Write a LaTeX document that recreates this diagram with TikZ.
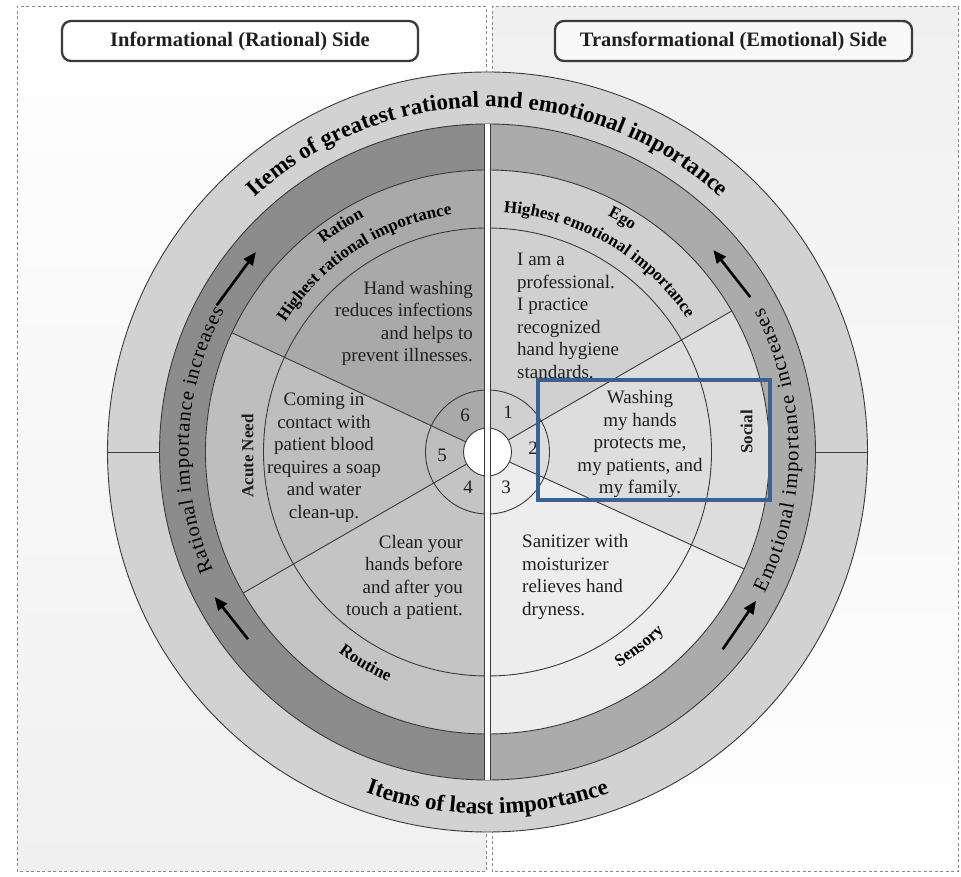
\documentclass[tikz,border=0pt]{standalone}
\usepackage{fontspec}
\setmainfont{Liberation Serif}
\usetikzlibrary{decorations.text,arrows.meta}
\definecolor{ringc}{HTML}{D2D2D2}
\definecolor{bandL}{HTML}{8C8C8C}
\definecolor{bandR}{HTML}{ABABAB}
\definecolor{cSix}{HTML}{A9A9A9}
\definecolor{cFive}{HTML}{BEBEBE}
\definecolor{cFour}{HTML}{C4C4C4}
\definecolor{cOne}{HTML}{D0D0D0}
\definecolor{cTwo}{HTML}{DDDDDD}
\definecolor{cThree}{HTML}{EDEDED}
\definecolor{edgec}{HTML}{3A3A3A}
\definecolor{txt}{HTML}{1E1E1E}
\definecolor{panelg}{HTML}{F0F0F0}
\definecolor{dashc}{HTML}{8A8A8A}
\definecolor{hiblue}{HTML}{3E6091}
\tikzset{
  edge/.style={draw=edgec, line width=0.9},
  panelline/.style={draw=dashc, line width=1, dash pattern=on 3pt off 2.5pt},
  headbox/.style={draw=edgec, line width=2.3, rounded corners=9, minimum height=40, inner sep=0,
     font=\bfseries\fontsize{20.5}{22}\selectfont, text=txt},
  body/.style={font=\fontsize{19}{22.5}\selectfont, inner sep=0, text=txt},
  numlbl/.style={font=\fontsize{19}{22}\selectfont, inner sep=0, text=txt},
  lbl/.style={font=\bfseries\fontsize{17}{19}\selectfont, inner sep=0, text=txt},
  bandarrow/.style={line width=2.6, draw=black, -{Triangle[length=13,width=11]}},
  hibox/.style={draw=hiblue, line width=3.6}
}
\begin{document}
\begin{tikzpicture}[x=1pt,y=1pt]
\useasboundingbox (0,0) rectangle (961,877);
% panels
\shade[top color=white, bottom color=panelg] (17,5) rectangle (486,870);
\shade[top color=panelg, bottom color=white] (492,5) rectangle (958,870);
\path[panelline] (17,5) rectangle (486,870);
\path[panelline] (492,5) rectangle (958,870);
% headers
\node[headbox, fill=white, minimum width=356] (lhead) at (240,836) {Informational (Rational) Side};
\node[headbox, fill=white!60!panelg, minimum width=357] (rhead) at (733.5,836) {Transformational (Emotional) Side};

\begin{scope}[shift={(487.5,425)}]
  % outer ring
  \fill[ringc] (0,0) circle[radius=380];
  % bands
  \fill[bandL] (90:328) arc[start angle=90, end angle=270, radius=328] -- cycle;
  \fill[bandR] (-90:328) arc[start angle=-90, end angle=90, radius=328] -- cycle;
  % sectors
  \fill[cSix] (0,0) -- (90:282) arc[start angle=90, end angle=155, radius=282] -- cycle;
  \fill[cFive] (0,0) -- (155:282) arc[start angle=155, end angle=210, radius=282] -- cycle;
  \fill[cFour] (0,0) -- (210:282) arc[start angle=210, end angle=270, radius=282] -- cycle;
  \fill[cOne] (0,0) -- (30:282) arc[start angle=30, end angle=90, radius=282] -- cycle;
  \fill[cTwo] (0,0) -- (-24.5:282) arc[start angle=-24.5, end angle=30, radius=282] -- cycle;
  \fill[cThree] (0,0) -- (-90:282) arc[start angle=-90, end angle=-24.5, radius=282] -- cycle;
  % circles
  \path[edge] (0,0) circle[radius=380];
  \path[edge] (0,0) circle[radius=328];
  \path[edge] (0,0) circle[radius=282];
  \path[edge] (0,0) circle[radius=224];
  \path[edge] (0,0) circle[radius=62];
  % radial lines
  \foreach \a in {155,210,30,-24.5} { \draw[edge] (\a:24) -- (\a:282); }
  \draw[edge] (180:328) -- (180:380);
  \draw[edge] (0:328) -- (0:380);
  % centre
  \fill[white] (0,0) circle[radius=24];
  \path[edge] (0,0) circle[radius=24];
  % separator
  \fill[white] (-3,-328) rectangle (3,328);
  \draw[edge] (-3,-327.9) -- (-3,327.9);
  \draw[edge] (3,-327.9) -- (3,327.9);

  % outer ring texts
  \path[decorate, decoration={text along path, text align=center,
     text={|\bfseries\fontsize{23}{23}\selectfont|Items of greatest rational and emotional importance}}]
     (134:345) arc[start angle=134, end angle=46, radius=345];
  \path[decorate, decoration={text along path, text align=center,
     text={|\bfseries\fontsize{23}{23}\selectfont|Items of least importance}}]
     (245:362) arc[start angle=245, end angle=295, radius=362];

  % band texts
  \path[decorate, decoration={text along path, text align={fit to path},
     text={|\fontsize{20.5}{20.5}\selectfont|Rational importance increases}}]
     (203.4:299) arc[start angle=203.4, end angle=151.7, radius=299];
  \path[decorate, decoration={text along path, text align={fit to path},
     text={|\fontsize{20.5}{20.5}\selectfont|Emotional importance increases}}]
     (-27:311) arc[start angle=-27, end angle=27.6, radius=311];

  % arrows
  \coordinate (aLUs) at (151.6:308); \coordinate (aLUe) at (139.2:306);
  \coordinate (aLLs) at (218:304);   \coordinate (aLLe) at (208:309);
  \coordinate (aRUs) at (30.5:305);  \coordinate (aRUe) at (41.8:303);
  \coordinate (aRLs) at (-40:307);   \coordinate (aRLe) at (-29:307);
  \draw[bandarrow] (aLUs) -- (aLUe);
  \draw[bandarrow] (aLLs) -- (aLLe);
  \draw[bandarrow] (aRUs) -- (aRUe);
  \draw[bandarrow] (aRLs) -- (aRLe);

  % label ring texts
  \path[decorate, decoration={text along path, text align=center,
     text={|\bfseries\fontsize{17}{17}\selectfont|Ration}}]
     (143:265) arc[start angle=143, end angle=103, radius=265];
  \path[decorate, decoration={text along path, text align=center,
     text={|\bfseries\fontsize{17}{17}\selectfont|Highest rational importance}}]
     (153:240) arc[start angle=153, end angle=93, radius=240];
  \path[decorate, decoration={text along path, text align=center,
     text={|\bfseries\fontsize{17}{17}\selectfont|Ego}}]
     (80:265) arc[start angle=80, end angle=40, radius=265];
  \path[decorate, decoration={text along path, text align=center,
     text={|\bfseries\fontsize{17}{17}\selectfont|Highest emotional importance}}]
     (90:240) arc[start angle=90, end angle=30, radius=240];
  \path[decorate, decoration={text along path, text align=center,
     text={|\bfseries\fontsize{17}{17}\selectfont|Routine}}]
     (220:250) arc[start angle=220, end angle=260, radius=250];
  \path[decorate, decoration={text along path, text align=center,
     text={|\bfseries\fontsize{17}{17}\selectfont|Sensory}}]
     (-72:252) arc[start angle=-72, end angle=-32, radius=252];
  \node[lbl, rotate=90] (acute) at (-240,-4) {Acute Need};
  \node[lbl, rotate=90] (social) at (259,20) {Social};

  % sector texts
  \node[body, align=right, anchor=east] (t6) at (-14.5,128.5)
     {Hand washing\\reduces infections\\and helps to\\prevent illnesses.};
  \node[body, align=center] (t5) at (-163.5,-5.5)
     {Coming in\\contact with\\patient blood\\requires a soap\\and water\\clean-up.};
  \node[body, align=right, anchor=east] (t4) at (-24.5,-125.5)
     {Clean your\\hands before\\and after you\\touch a patient.};
  \node[body, align=left, anchor=west] (t1) at (29.5,136)
     {I am a\\professional.\\I practice\\recognized\\hand hygiene\\standards.};
  \node[body, align=center] (t2) at (152.5,8)
     {Washing\\my hands\\protects me,\\my patients, and\\my family.};
  \node[body, align=left, anchor=west] (t3) at (34.5,-125)
     {Sanitizer with\\moisturizer\\relieves hand\\dryness.};

  % numbers
  \node[numlbl] (n1) at (20.5,40) {1};
  \node[numlbl] (n2) at (45.5,4) {2};
  \node[numlbl] (n3) at (18.5,-35) {3};
  \node[numlbl] (n4) at (-19.5,-35) {4};
  \node[numlbl] (n5) at (-45.5,-3) {5};
  \node[numlbl] (n6) at (-22.5,37) {6};

  % highlight box
  \draw[hibox] (50.5,72) rectangle (282.5,-48);
\end{scope}
\end{tikzpicture}
\end{document}
